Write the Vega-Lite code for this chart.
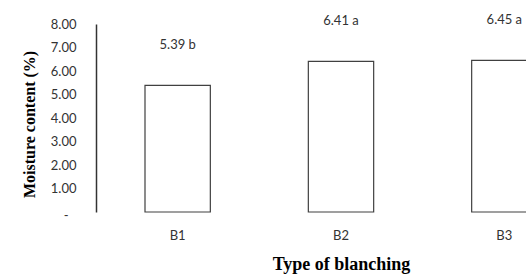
{
  "$schema": "https://vega.github.io/schema/vega-lite/v6.json",
  "autosize": {"type": "none"},
  "padding": {"left": 96, "top": 24, "right": 0, "bottom": 64},
  "width": 430,
  "height": 188,
  "background": "white",
  "config": {"view": {"stroke": null}},
  "data": {
    "values": [
      {"blanching": "B1", "moisture": 5.39, "label": "5.39 b"},
      {"blanching": "B2", "moisture": 6.41, "label": "6.41 a"},
      {"blanching": "B3", "moisture": 6.45, "label": "6.45 a"}
    ]
  },
  "encoding": {
    "x": {
      "field": "blanching",
      "type": "nominal",
      "sort": null,
      "scale": {"range": [0, 490], "paddingInner": 0.6, "paddingOuter": 0.3},
      "axis": {
        "title": "Type of blanching",
        "titleFont": "Liberation Serif",
        "titleFontWeight": "bold",
        "titleFontSize": 18,
        "titleColor": "#000000",
        "titlePadding": 13,
        "labelFont": "Lato",
        "labelFontSize": 13,
        "labelColor": "#333333",
        "labelAngle": 0,
        "labelPadding": 17,
        "domain": false,
        "ticks": false,
        "grid": false
      }
    },
    "y": {
      "field": "moisture",
      "type": "quantitative",
      "scale": {"domain": [0, 8], "nice": false},
      "axis": {
        "title": "Moisture content (%)",
        "titleFont": "Liberation Serif",
        "titleFontWeight": "bold",
        "titleFontSize": 16,
        "titleColor": "#000000",
        "titleX": -59,
        "titleY": 100,
        "values": [0, 1, 2, 3, 4, 5, 6, 7, 8],
        "labelExpr": "datum.value == 0 ? '-' : format(datum.value, '.2f')",
        "labelFont": "Lato",
        "labelFontSize": 13,
        "labelColor": "#333333",
        "labelPadding": {"condition": {"test": "datum.value == 0", "value": 28}, "value": 20},
        "labelOffset": {"condition": {"test": "datum.value == 0", "value": 3}, "value": 0},
        "ticks": false,
        "grid": false,
        "domainColor": "#333333",
        "domainWidth": 1.5
      }
    }
  },
  "layer": [
    {
      "mark": {"type": "bar", "fill": "white", "stroke": "#404040", "strokeWidth": 1.2}
    },
    {
      "mark": {"type": "text", "font": "Lato", "fontSize": 13, "color": "#333333", "baseline": "middle", "dy": -40},
      "encoding": {"text": {"field": "label"}}
    }
  ]
}
